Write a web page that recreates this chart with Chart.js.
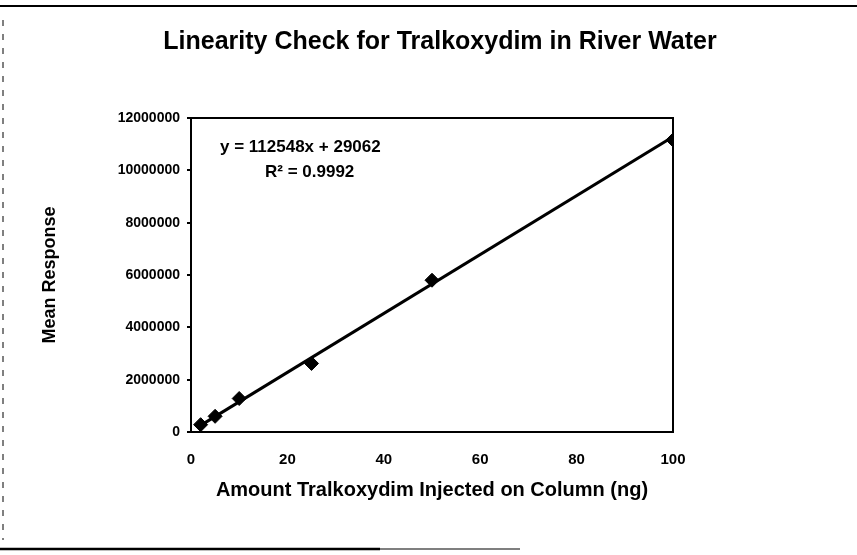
<!DOCTYPE html>
<html>
<head>
<meta charset="utf-8">
<title>Linearity Check for Tralkoxydim in River Water</title>
<script src="https://cdn.jsdelivr.net/npm/chart.js@4/dist/chart.umd.min.js"></script>
<style>
    body { margin: 0; background: #fff; }
    #wrap { width: 857px; height: 555px; }
</style>
</head>
<body>
<div id="wrap"><canvas id="linearityChart" width="857" height="555"></canvas></div>
<script>
// Data
const amounts = [2, 5, 10, 25, 50, 100];                                   // ng injected
const responses = [280000, 600000, 1280000, 2620000, 5800000, 11160000];   // mean response
// Trendline end points as printed (y = 112548x + 29062)
const trendX = [2, 100];
const trendY = [254000, 11284000];
const yTicks = [0, 2000000, 4000000, 6000000, 8000000, 10000000, 12000000];
const xTicks = [0, 20, 40, 60, 80, 100];

const titleText = 'Linearity Check for Tralkoxydim in River Water';
const equationText = 'y = 112548x + 29062';
const rSquaredText = 'R\u00B2 = 0.9992';

const FONT = "'Liberation Sans', Arial, sans-serif";

// Page frame, plot box, title and trendline label
const decorPlugin = {
    id: 'decor',
    afterDraw(chart) {
        const { ctx, chartArea: a } = chart;
        ctx.save();
        ctx.strokeStyle = '#000';
        // scanned page edges
        ctx.lineWidth = 2;
        ctx.beginPath(); ctx.moveTo(0, 6); ctx.lineTo(857, 6); ctx.stroke();
        ctx.lineWidth = 2.5;
        ctx.beginPath(); ctx.moveTo(0, 549); ctx.lineTo(380, 549); ctx.stroke();
        ctx.lineWidth = 1.2;
        ctx.beginPath(); ctx.moveTo(380, 549); ctx.lineTo(520, 549); ctx.stroke();
        ctx.lineWidth = 1;
        ctx.setLineDash([6, 8]);
        ctx.beginPath(); ctx.moveTo(3, 20); ctx.lineTo(3, 540); ctx.stroke();
        ctx.setLineDash([]);
        // plot box
        ctx.lineWidth = 2;
        ctx.strokeRect(a.left, a.top, a.right - a.left, a.bottom - a.top);
        // title
        ctx.fillStyle = '#000';
        ctx.textAlign = 'center';
        ctx.textBaseline = 'middle';
        ctx.font = 'bold 25px ' + FONT;
        ctx.fillText(titleText, 440, 42);
        // equation
        ctx.font = 'bold 17px ' + FONT;
        ctx.textAlign = 'left';
        ctx.fillText(equationText, a.left + 29, a.top + 29);
        ctx.fillText(rSquaredText, a.left + 74, a.top + 54);
        ctx.restore();
    }
};

new Chart(document.getElementById('linearityChart'), {
    type: 'scatter',
    data: {
        datasets: [
            {
                label: 'Linear (Mean Response)',
                data: trendX.map((x, i) => ({ x, y: trendY[i] })),
                showLine: true,
                borderColor: '#000',
                borderWidth: 3,
                pointRadius: 0,
                fill: false
            },
            {
                label: 'Mean Response',
                data: amounts.map((x, i) => ({ x, y: responses[i] })),
                pointStyle: 'rectRot',
                pointRadius: 7,
                pointBackgroundColor: '#000',
                pointBorderColor: '#000'
            }
        ]
    },
    options: {
        responsive: false,
        animation: false,
        layout: { padding: { top: 118, right: 184, left: 0, bottom: 0 } },
        plugins: { legend: { display: false }, tooltip: { enabled: false } },
        scales: {
            x: {
                type: 'linear',
                min: 0, max: 100,
                afterBuildTicks: s => { s.ticks = xTicks.map(v => ({ value: v })); },
                afterFit: s => { s.height = 123; },
                grid: { display: false, drawTicks: false },
                border: { display: true, color: '#000', width: 2 },
                ticks: { color: '#000', padding: 19, font: { family: FONT, size: 15, weight: 'bold' } },
                title: {
                    display: true,
                    text: 'Amount Tralkoxydim Injected on Column (ng)',
                    color: '#000',
                    font: { family: FONT, size: 20, weight: 'bold' },
                    padding: { top: 0, bottom: 53 }
                }
            },
            y: {
                type: 'linear',
                min: 0, max: 12000000,
                afterBuildTicks: s => { s.ticks = yTicks.map(v => ({ value: v })); },
                afterFit: s => { s.width = 191; },
                grid: { drawOnChartArea: false, drawTicks: true, tickLength: 4, color: '#000', lineWidth: 2 },
                border: { display: true, color: '#000', width: 2 },
                ticks: { color: '#000', padding: 7, font: { family: FONT, size: 14, weight: 'bold' }, callback: v => String(v) },
                title: {
                    display: true,
                    text: 'Mean Response',
                    color: '#000',
                    font: { family: FONT, size: 18, weight: 'bold' },
                    padding: { top: 39, bottom: 0 }
                }
            }
        }
    },
    plugins: [decorPlugin]
});
</script>
</body>
</html>
